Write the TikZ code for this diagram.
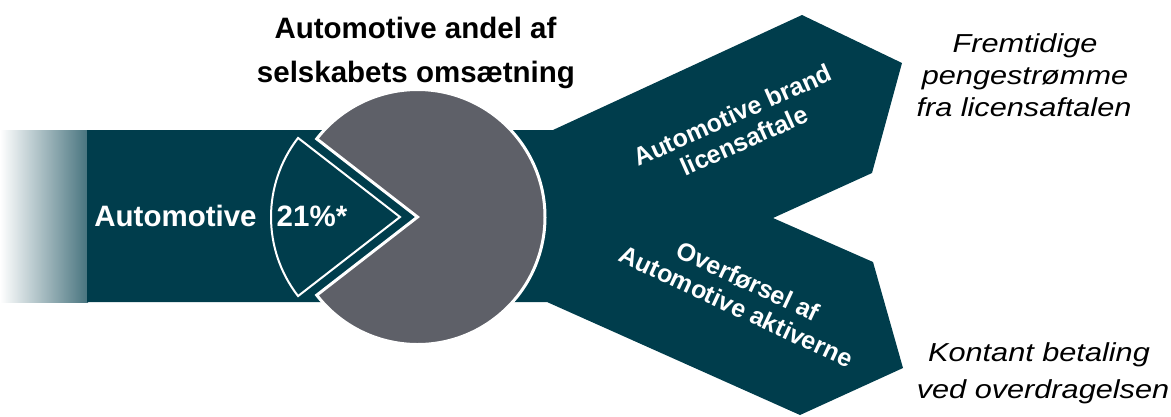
\documentclass[tikz,border=0pt]{standalone}
\usepackage{fontspec}
\setmainfont{Liberation Sans}
\newfontfamily\wideit{Liberation Sans}[FakeStretch=1.18]
\definecolor{teal}{RGB}{0,61,76}
\definecolor{piegray}{RGB}{94,96,104}
\tikzset{
  bandfill/.style={fill=teal},
  whitebold/.style={text=white, font=\fontsize{29.5}{35}\selectfont\bfseries, inner sep=0pt, anchor=base},
  branchtxt/.style={text=white, font=\fontsize{25}{28}\selectfont\bfseries, inner sep=0pt, align=center, anchor=center},
  titletxt/.style={text=black, font=\fontsize{29.5}{35}\selectfont\bfseries, inner sep=0pt, anchor=base},
  sidetxt/.style={text=black, font=\wideit\fontsize{26}{31}\selectfont\itshape, inner sep=0pt, anchor=base},
}
\begin{document}
\begin{tikzpicture}[x=1pt,y=-1pt]
\useasboundingbox (0,0) rectangle (1171,416);
% fading band start
\shade[left color=white, right color=teal!72!white] (0,130) rectangle (88,302);
% band with two branches
\fill[bandfill] (87,130) -- (553,130) -- (802,15) -- (902,63) -- (872,173) -- (773,218)
  -- (873,262) -- (903,368) -- (800,415) -- (547,302) -- (87,302) -- cycle;
% pie (remaining part)
\coordinate (pc) at (417.5,217);
\filldraw[fill=piegray, draw=white, line width=3pt, line join=miter]
  (pc) -- ++(142.2:127.5) arc[start angle=142.2, end angle=-142.2, radius=127.5] -- cycle;
% exploded slice
\coordinate (sc) at (400,217);
\filldraw[fill=teal, draw=white, line width=2pt, line join=miter]
  (sc) -- ++(142.2:129) arc[start angle=142.2, end angle=217.8, radius=129] -- cycle;
% texts
\node[titletxt] (t1) at (415.5,38) {Automotive andel af};
\node[titletxt] (t2) at (416,82) {selskabets omsætning};
\node[whitebold] (auto) at (175.5,226) {Automotive};
\node[whitebold] (pct) at (312,226) {21\%*};
\node[branchtxt, rotate=24] (b) at (738.3,127.7) {Automotive brand\\licensaftale};
\node[branchtxt, rotate=-25] (c) at (742.3,293.8) {Overførsel af\\Automotive aktiverne};
\node[sidetxt] (f1) at (1025,52) {Fremtidige};
\node[sidetxt] (f2) at (1025,84.5) {pengestrømme};
\node[sidetxt] (f3) at (1024,116.5) {fra licensaftalen};
\node[sidetxt] (k1) at (1039,361) {Kontant betaling};
\node[sidetxt] (k2) at (1043,398) {ved overdragelsen};
\end{tikzpicture}
\end{document}
